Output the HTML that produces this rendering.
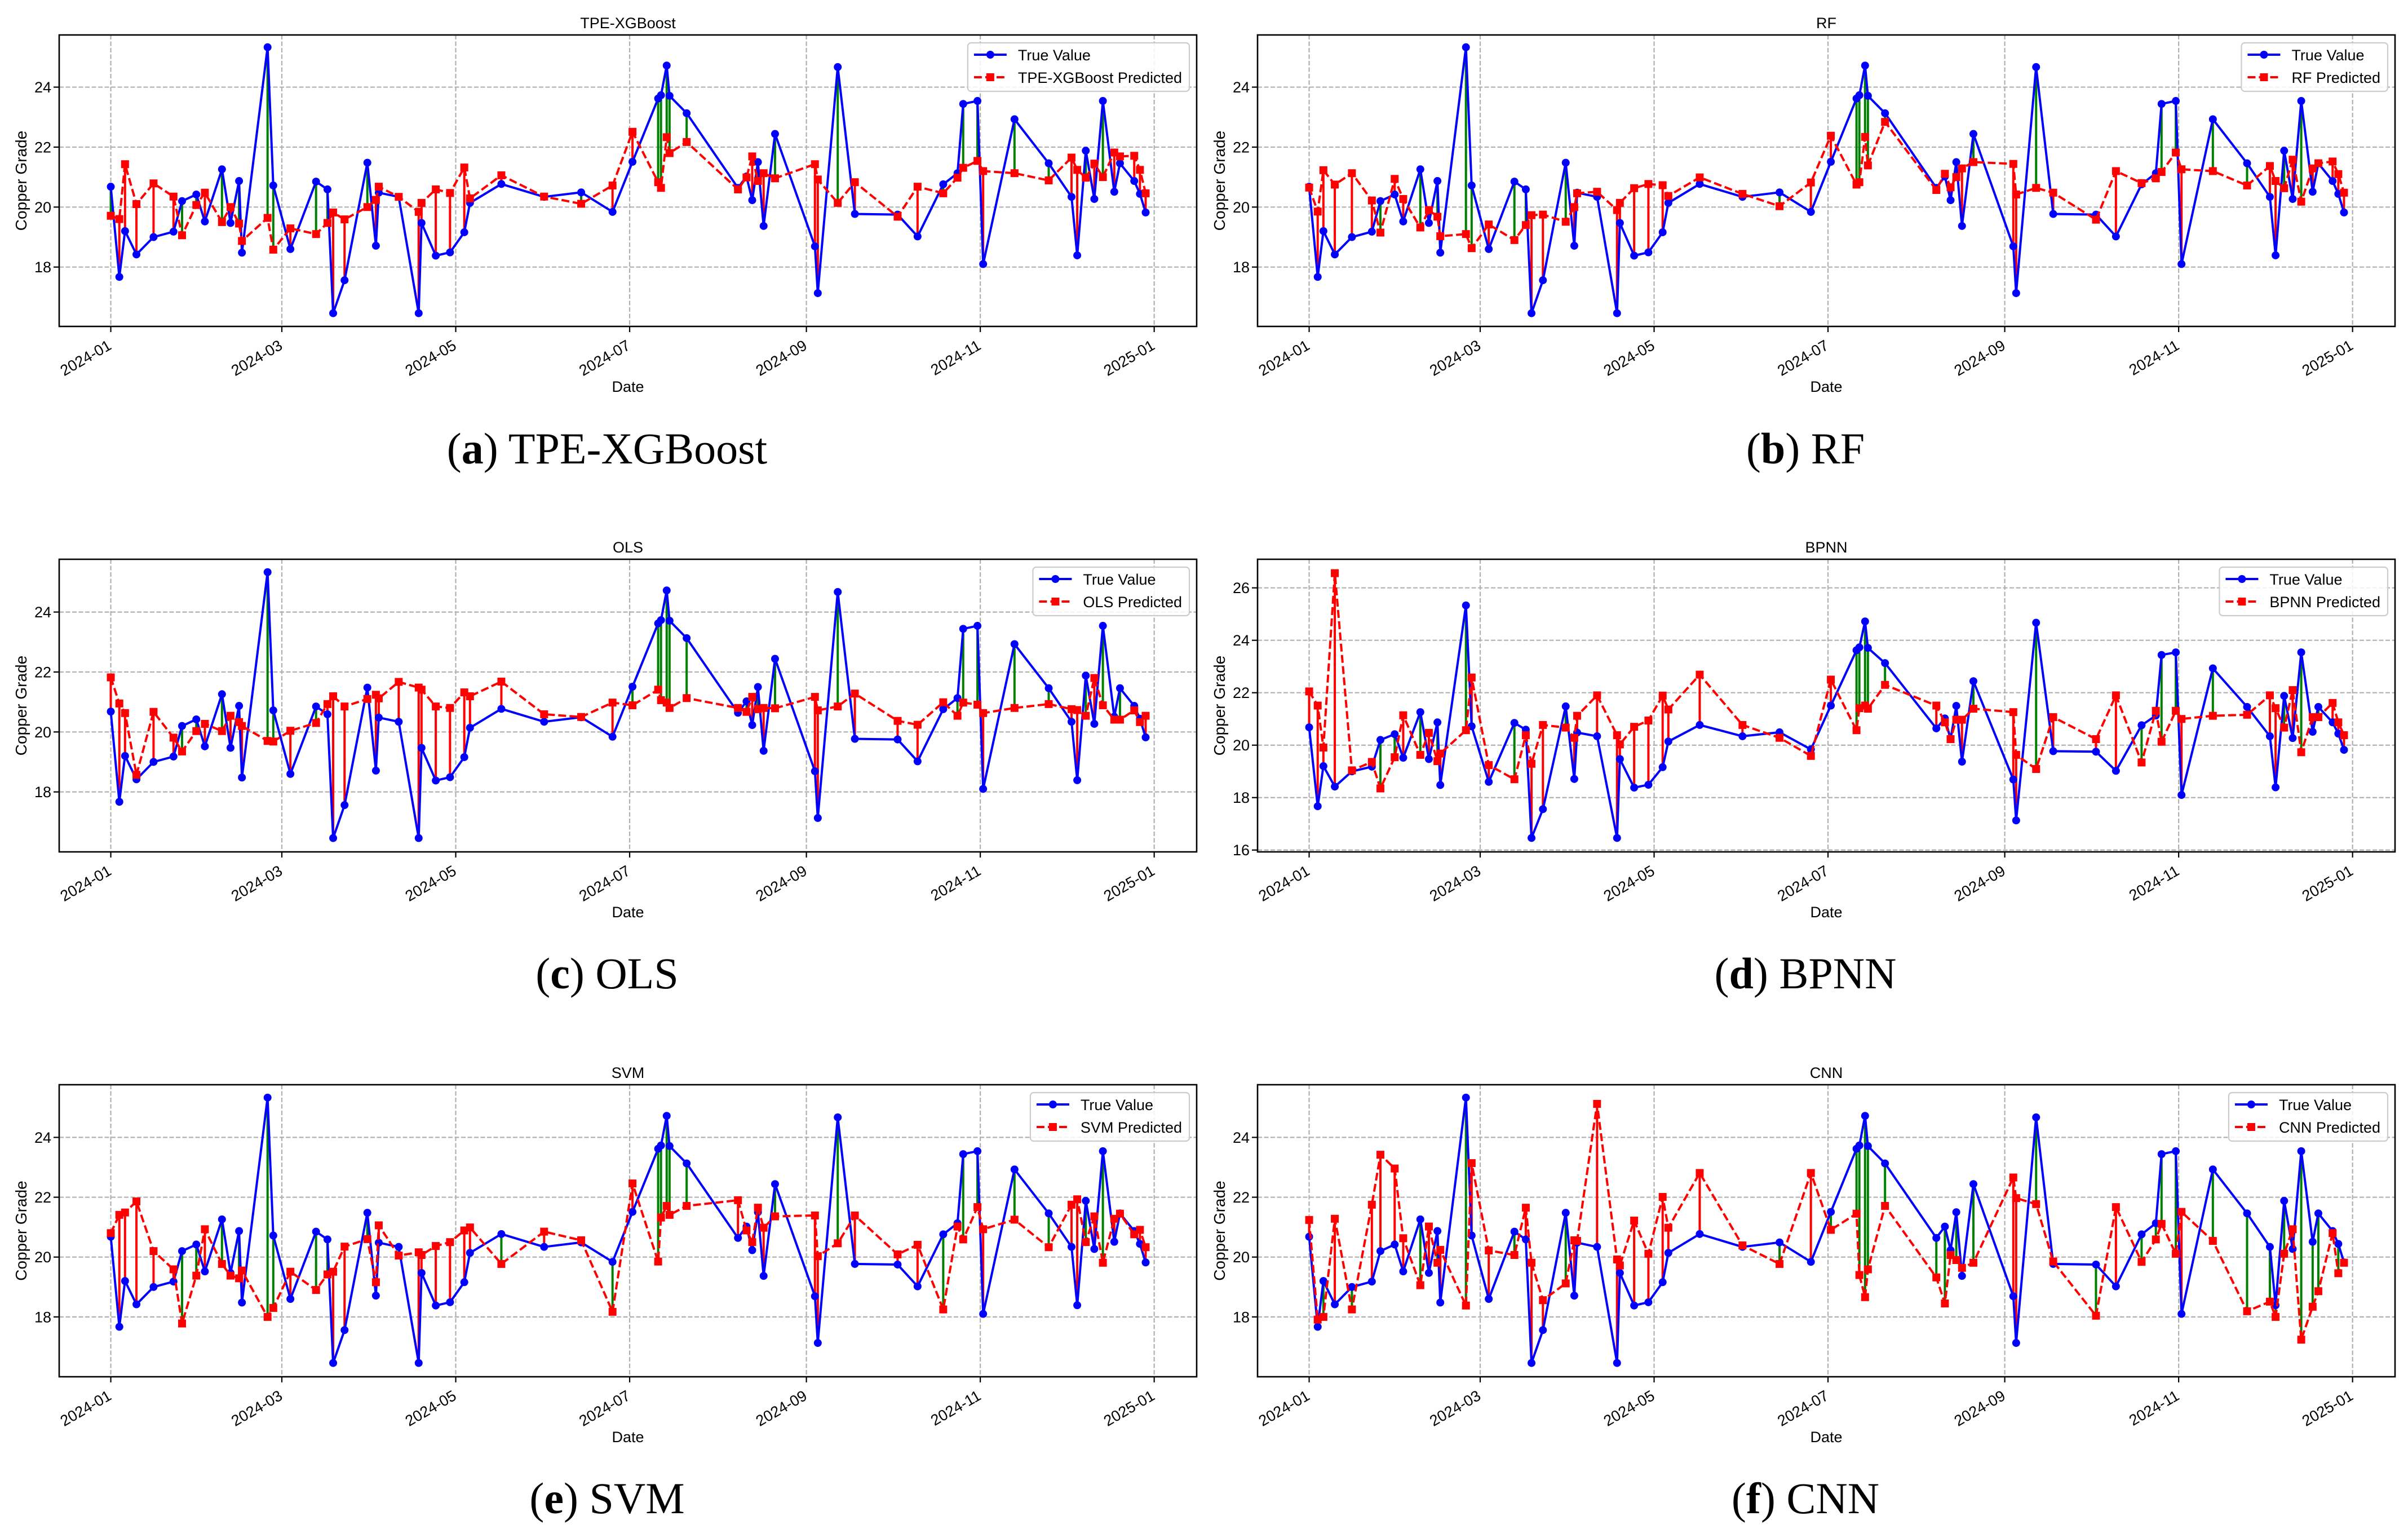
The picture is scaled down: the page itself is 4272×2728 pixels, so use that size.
<!DOCTYPE html>
<html>
<head>
<meta charset="utf-8">
<style>
html,body{margin:0;padding:0;background:#fff;}
svg{display:block;font-family:"Liberation Sans",Arial,sans-serif;}
</style>
</head>
<body>
<svg id="fig" xmlns="http://www.w3.org/2000/svg" width="4272" height="2728" viewBox="0 0 4272 2728">
<rect x="0" y="0" width="4272" height="2728" fill="#fff"/>
</svg>
<script>
// ---- data ----
const dayOffsets = [0,3,5,9,15,22,25,30,33,39,42,45,46,55,57,63,72,76,78,82,90,93,94,101,108,109,114,119,124,126,137,152,165,176,183,192,193,195,196,202,220,223,225,227,229,233,247,248,255,261,276,283,292,297,299,304,306,317,329,337,339,342,345,348,352,354,359,361,363];
const trueVals = [20.68,17.67,19.2,18.42,19.0,19.18,20.2,20.42,19.52,21.26,19.47,20.87,18.48,25.33,20.72,18.6,20.85,20.59,16.46,17.56,21.48,18.71,20.48,20.34,16.46,19.47,18.38,18.49,19.16,20.14,20.77,20.34,20.49,19.84,21.51,23.62,23.73,24.72,23.71,23.13,20.64,21.02,20.23,21.5,19.37,22.44,18.69,17.13,24.67,19.77,19.75,19.02,20.76,21.13,23.44,23.54,18.1,22.93,21.46,20.34,18.39,21.88,20.27,23.54,20.51,21.46,20.87,20.44,19.82];
const predTPE = [19.71,19.6,21.43,20.1,20.79,20.35,19.06,20.07,20.48,19.5,20.0,19.45,18.87,19.64,18.58,19.29,19.1,19.47,19.82,19.59,20.0,20.24,20.68,20.34,19.84,20.14,20.59,20.47,21.32,20.29,21.06,20.35,20.11,20.72,22.51,20.83,20.64,22.33,21.8,22.17,20.59,20.99,21.69,20.87,21.13,20.96,21.43,20.92,20.14,20.83,19.68,20.68,20.46,20.98,21.31,21.54,21.2,21.13,20.89,21.65,21.24,20.98,21.45,21.0,21.82,21.69,21.71,21.24,20.46];
const predRF = [20.65,19.85,21.23,20.75,21.13,20.22,19.15,20.94,20.27,19.32,19.9,19.68,19.03,19.1,18.63,19.42,18.9,19.4,19.73,19.75,19.51,20.0,20.46,20.51,19.9,20.14,20.63,20.77,20.73,20.37,20.99,20.44,20.03,20.82,22.38,20.75,20.83,22.34,21.39,22.84,20.57,21.11,20.66,21.0,21.29,21.5,21.44,20.42,20.64,20.48,19.58,21.2,20.8,20.96,21.17,21.82,21.26,21.2,20.72,21.37,20.87,20.63,21.58,20.18,21.29,21.46,21.52,21.1,20.48];
const predOLS = [21.82,20.95,20.63,18.57,20.67,19.81,19.35,20.03,20.27,20.03,20.54,20.33,20.2,19.7,19.68,20.04,20.3,20.93,21.19,20.85,21.1,21.24,21.12,21.67,21.48,21.41,20.85,20.8,21.32,21.19,21.68,20.59,20.5,20.98,20.89,21.41,21.06,20.98,20.8,21.13,20.8,20.67,21.17,20.76,20.8,20.79,21.17,20.72,20.85,21.28,20.37,20.24,20.99,20.54,20.98,20.91,20.63,20.8,20.93,20.76,20.73,20.54,21.8,20.89,20.41,20.41,20.72,20.33,20.54];
const predBPNN = [22.05,21.51,19.91,26.56,19.04,19.36,18.35,19.54,21.14,19.63,20.47,19.39,19.68,20.57,22.58,19.24,18.7,20.38,19.29,20.77,20.67,20.28,21.12,21.9,20.38,20.03,20.7,20.94,21.89,21.36,22.69,20.77,20.28,19.59,22.5,20.57,21.41,21.51,21.39,22.3,21.51,20.87,20.23,20.97,20.97,21.39,21.26,19.63,19.09,21.07,20.23,21.9,19.34,21.31,20.13,21.31,21.0,21.12,21.16,21.9,21.41,20.67,22.1,19.73,21.07,21.07,21.61,20.87,20.38];
const predSVM = [20.8,21.41,21.49,21.86,20.2,19.59,17.78,19.38,20.93,19.77,19.38,19.29,19.55,18.0,18.3,19.51,18.9,19.42,19.51,20.35,20.6,19.16,21.06,20.05,20.16,20.07,20.37,20.5,20.89,20.99,19.77,20.85,20.56,18.17,22.46,19.85,21.32,21.71,21.41,21.71,21.9,20.89,20.5,21.65,20.98,21.36,21.39,20.03,20.46,21.39,20.09,20.41,18.25,21.02,20.59,21.67,20.93,21.25,20.33,21.75,21.93,20.5,21.36,19.81,21.28,21.45,20.76,20.91,20.33];
const predCNN = [21.24,17.91,18.0,21.28,18.25,21.75,23.42,22.96,20.63,19.06,21.02,19.81,20.24,18.38,23.14,20.22,20.07,21.65,19.81,18.56,19.12,20.56,20.54,25.12,19.92,19.72,21.22,20.11,22.01,20.98,22.81,20.39,19.77,22.81,20.91,21.45,19.4,18.66,19.59,21.71,19.32,18.45,20.07,19.9,19.64,19.81,22.66,21.97,21.77,19.85,18.04,21.67,19.84,20.59,21.11,20.11,21.51,20.54,18.19,18.51,18.0,20.11,20.93,17.24,18.34,18.86,20.8,19.46,19.81];
const xTickLabels = ["2024-01","2024-03","2024-05","2024-07","2024-09","2024-11","2025-01"];
const xTickDays = [0,60,121,182,244,305,366];
const yTicksStd = [18,20,22,24];
const yTicksBPNN = [16,18,20,22,24,26];
const modelNames = ["TPE-XGBoost","RF","OLS","BPNN","SVM","CNN"];
const subLetters = ["a","b","c","d","e","f"];

const NS = "http://www.w3.org/2000/svg";
const svg = document.getElementById('fig');
function mk(tag, attrs, parent){
  const e = document.createElementNS(NS, tag);
  for (const k in attrs) e.setAttribute(k, attrs[k]);
  (parent||svg).appendChild(e);
  return e;
}

const cols = [{l:105, r:2123}, {l:2231, r:4249}];
const rows = [{t:62, b:579}, {t:992, b:1511}, {t:1924, b:2442}];
const XMIN = -18.1, XMAX = 380.9;
const preds = [predTPE, predRF, predOLS, predBPNN, predSVM, predCNN];
const ylims = [[16.02,25.74],[16.02,25.74],[16.0,25.76],[15.93,27.09],[16.0,25.76],[16.0,25.76]];

for (let p = 0; p < 6; p++) {
  const c = cols[p % 2], rw = rows[Math.floor(p / 2)];
  const pred = preds[p], yl = ylims[p];
  const xs = d => c.l + (d - XMIN) / (XMAX - XMIN) * (c.r - c.l);
  const ys = v => rw.b - (v - yl[0]) / (yl[1] - yl[0]) * (rw.b - rw.t);
  const g = mk('g', {});
  
  

  // grid
  const yt = p === 3 ? yTicksBPNN : yTicksStd;
  xTickDays.forEach((d, i) => {
    const x = xs(d);
    const gl = mk('line', {x1:x, x2:x, y1:rw.t, y2:rw.b, stroke:'#b0b0b0', 'stroke-width':2.2, 'stroke-dasharray':'8,3.5'}, g);
    
    
    mk('line', {x1:x, x2:x, y1:rw.b, y2:rw.b + 10, stroke:'#000', 'stroke-width':2.2}, g);
    const ty = rw.b + 39, tx = x + 3;
    const t = mk('text', {x:tx, y:ty, 'text-anchor':'end', 'font-size':27, transform:'rotate(-30 ' + tx + ' ' + ty + ')'}, g);
    t.textContent = xTickLabels[i];
    
    
  });
  yt.forEach(v => {
    const y = ys(v);
    const gl = mk('line', {x1:c.l, x2:c.r, y1:y, y2:y, stroke:'#b0b0b0', 'stroke-width':2.2, 'stroke-dasharray':'8,3.5'}, g);
    
    
    mk('line', {x1:c.l - 10, x2:c.l, y1:y, y2:y, stroke:'#000', 'stroke-width':2.2}, g);
    const t = mk('text', {x:c.l - 14, y:y + 9.5, 'text-anchor':'end', 'font-size':27}, g);
    t.textContent = String(v);
    
    
  });

  // error lines
  for (let i = 0; i < dayOffsets.length; i++) {
    const x = xs(dayOffsets[i]);
    const col = trueVals[i] > pred[i] ? '#008000' : '#ff0000';
    const el = mk('line', {x1:x, x2:x, y1:ys(trueVals[i]), y2:ys(pred[i]), stroke:col, 'stroke-width':4}, g);
    
    
  }
  // true line
  const tp = dayOffsets.map((d, i) => xs(d).toFixed(1) + ',' + ys(trueVals[i]).toFixed(1)).join(' ');
  const tl = mk('polyline', {points:tp, fill:'none', stroke:'#0000ff', 'stroke-width':4, 'stroke-linejoin':'round'}, g);
  
  
  for (let i = 0; i < dayOffsets.length; i++) {
    const m = mk('circle', {cx:xs(dayOffsets[i]), cy:ys(trueVals[i]), r:7, fill:'#0000ff'}, g);
    
    
  }
  // predicted line
  const pp = dayOffsets.map((d, i) => xs(d).toFixed(1) + ',' + ys(pred[i]).toFixed(1)).join(' ');
  const pl = mk('polyline', {points:pp, fill:'none', stroke:'#ff0000', 'stroke-width':4, 'stroke-dasharray':'14,6'}, g);
  
  
  for (let i = 0; i < dayOffsets.length; i++) {
    const m = mk('rect', {x:xs(dayOffsets[i]) - 7, y:ys(pred[i]) - 7, width:14, height:14, fill:'#ff0000'}, g);
    
    
  }

  // frame
  const fr = mk('rect', {x:c.l, y:rw.t, width:c.r - c.l, height:rw.b - rw.t, fill:'none', stroke:'#000', 'stroke-width':2.6}, g);
  
  

  // titles
  const cx = (c.l + c.r) / 2;
  const tt = mk('text', {x:cx, y:rw.t - 12, 'text-anchor':'middle', 'font-size':27}, g);
  tt.textContent = modelNames[p];
  
  
  const xl = mk('text', {x:cx, y:rw.b + 116, 'text-anchor':'middle', 'font-size':27}, g);
  xl.textContent = 'Date';
  
  
  const ylx = c.l - 58, yly = (rw.t + rw.b) / 2;
  const yla = mk('text', {x:ylx, y:yly, 'text-anchor':'middle', 'font-size':28, transform:'rotate(-90 ' + ylx + ' ' + yly + ')'}, g);
  yla.textContent = 'Copper Grade';
  
  

  // legend
  const lg = mk('g', {}, g);
  
  
  const box = mk('rect', {x:0, y:rw.t + 14, width:10, height:86, rx:6, fill:'#fff', 'fill-opacity':0.85, stroke:'#cccccc', 'stroke-width':2.2}, lg);
  const t1 = mk('text', {x:0, y:rw.t + 45, 'font-size':27}, lg);
  t1.textContent = 'True Value';
  
  
  const t2 = mk('text', {x:0, y:rw.t + 85, 'font-size':27}, lg);
  t2.textContent = modelNames[p] + ' Predicted';
  
  
  const w = Math.max(t1.getComputedTextLength(), t2.getComputedTextLength());
  const bw = 89 + w + 13;
  const bx = c.r - 13 - bw;
  box.setAttribute('x', bx); box.setAttribute('width', bw);
  t1.setAttribute('x', bx + 89); t2.setAttribute('x', bx + 89);
  mk('line', {x1:bx + 11, x2:bx + 69, y1:rw.t + 35, y2:rw.t + 35, stroke:'#0000ff', 'stroke-width':4}, lg);
  mk('circle', {cx:bx + 40, cy:rw.t + 35, r:7, fill:'#0000ff'}, lg);
  mk('line', {x1:bx + 11, x2:bx + 69, y1:rw.t + 75, y2:rw.t + 75, stroke:'#ff0000', 'stroke-width':4, 'stroke-dasharray':'14,6'}, lg);
  mk('rect', {x:bx + 33, y:rw.t + 68, width:14, height:14, fill:'#ff0000'}, lg);

  // subcaption
  const sx = (p % 2 === 0 ? 1077 : 3203);
  const sy = 822 + Math.floor(p / 2) * 931;
  const sc = mk('text', {x:sx, y:sy, 'text-anchor':'middle', 'font-size':78, 'font-family':'"Liberation Serif", serif'}, g);
  
  
  const s1 = mk('tspan', {}, sc); s1.textContent = '(';
  const s2 = mk('tspan', {'font-weight':'bold'}, sc); s2.textContent = subLetters[p];
  const s3 = mk('tspan', {}, sc); s3.textContent = ') ' + modelNames[p];
}
</script>
</body>
</html>
